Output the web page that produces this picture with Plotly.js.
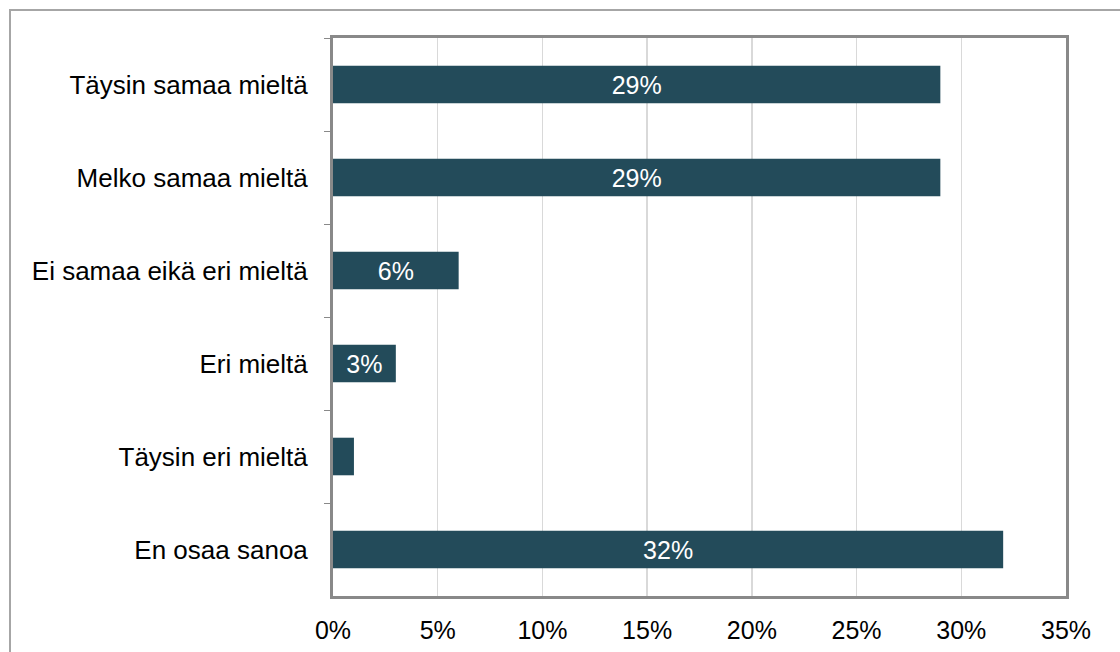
<!DOCTYPE html>
<html>
<head>
<meta charset="utf-8">
<script src="https://cdn.plot.ly/plotly-3.0.1.min.js"></script>
<style>
  html, body { margin: 0; padding: 0; width: 1120px; height: 652px; overflow: hidden; background: #fff; }
  #frame { position: absolute; left: 9px; top: 9px; width: 1200px; height: 700px; border: 2px solid #a6a6a6; box-sizing: border-box; }
  #chart { position: absolute; left: 0; top: 0; width: 1120px; height: 652px; }
</style>
</head>
<body>
<div id="frame"></div>
<div id="chart"></div>
<script>
const categories = [
  "Täysin samaa mieltä",
  "Melko samaa mieltä",
  "Ei samaa eikä eri mieltä",
  "Eri mieltä",
  "Täysin eri mieltä",
  "En osaa sanoa"
];
const values = [29, 29, 6, 3, 1, 32];
const tickValues = [0, 5, 10, 15, 20, 25, 30, 35];
const tickLabels = ["0%", "5%", "10%", "15%", "20%", "25%", "30%", "35%"];

const trace = {
  type: "bar",
  orientation: "h",
  y: categories,
  x: values,
  text: values.map(v => v + "%"),
  textposition: values.map(v => v < 2 ? "outside" : "inside"),
  insidetextanchor: "middle",
  textangle: 0,
  constraintext: "none",
  textfont: { family: "Liberation Sans, Arial, sans-serif", size: 25, color: "#ffffff" },
  outsidetextfont: { family: "Liberation Sans, Arial, sans-serif", size: 25, color: "#ffffff" },
  marker: { color: "#234B5A" },
  hoverinfo: "none",
  cliponaxis: true
};

const layout = {
  width: 1120,
  height: 652,
  margin: { l: 333, r: 54, t: 38, b: 56 },
  paper_bgcolor: "rgba(0,0,0,0)",
  plot_bgcolor: "#ffffff",
  showlegend: false,
  bargap: 0.596,
  font: { family: "Liberation Sans, Arial, sans-serif", size: 25, color: "#000000" },
  xaxis: {
    range: [0, 35],
    tickvals: tickValues,
    ticktext: tickLabels,
    showgrid: true,
    gridcolor: "#d9d9d9",
    gridwidth: 1.5,
    zeroline: false,
    showline: true,
    linecolor: "#898989",
    linewidth: 3,
    mirror: true,
    ticks: "",
    ticklabelstandoff: 10,
    tickfont: { size: 25 }
  },
  yaxis: {
    autorange: "reversed",
    showgrid: false,
    zeroline: false,
    showline: true,
    linecolor: "#898989",
    linewidth: 3,
    mirror: true,
    ticks: "outside",
    tickson: "boundaries",
    ticklen: 6,
    tickwidth: 1,
    tickcolor: "#898989",
    ticklabelstandoff: 17,
    tickfont: { size: 26 }
  }
};

Plotly.newPlot("chart", [trace], layout, { displayModeBar: false, staticPlot: true });
</script>
</body>
</html>
